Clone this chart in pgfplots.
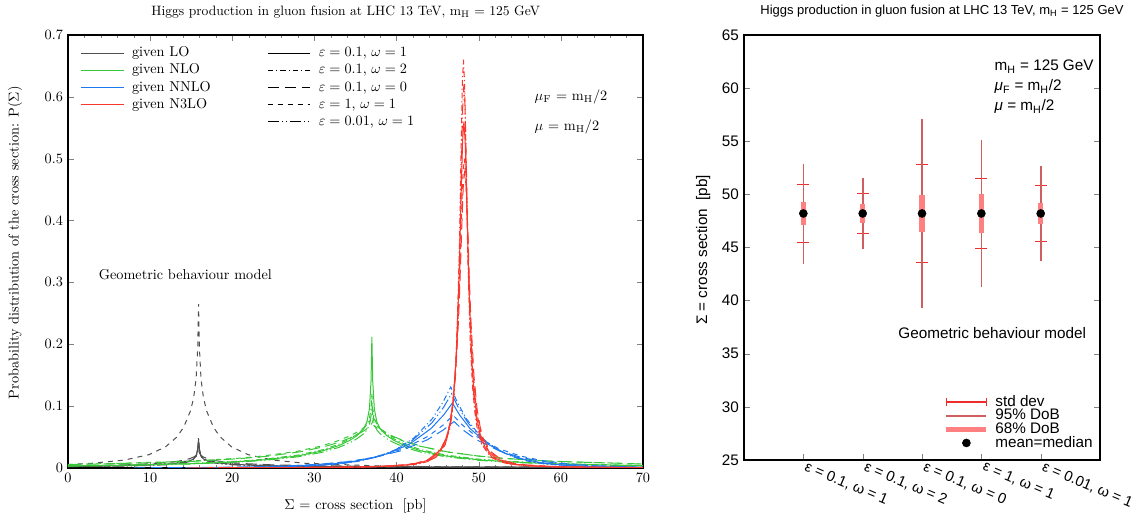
\documentclass[border=0pt]{standalone}
\usepackage{fontspec}
\usepackage{pgfplots}
\usepackage{pgfplotstable}
\pgfplotsset{compat=1.18}
\newfontfamily\hv{Liberation Sans}
\newcommand\hvf{\hv\fontsize{10.7}{13}\selectfont}
\newcommand\hvt{\hv\fontsize{10.3}{12}\selectfont}
\newcommand\hvs{\hv\fontsize{9.1}{11}\selectfont}
\definecolor{cLO}{RGB}{80,80,80}
\definecolor{cNLO}{RGB}{55,200,55}
\definecolor{cNNLO}{RGB}{30,120,240}
\definecolor{cN3LO}{RGB}{250,55,45}
\definecolor{cSD}{RGB}{238,45,45}
\definecolor{cNF}{RGB}{205,95,95}
\definecolor{cSE}{RGB}{255,128,128}
\tikzset{
  lsA/.style={solid},
  lsB/.style={dash pattern=on 4pt off 2pt on 0.8pt off 2pt},
  lsC/.style={dash pattern=on 8pt off 4pt},
  lsD/.style={dash pattern=on 3.5pt off 3.5pt},
  lsE/.style={dash pattern=on 8pt off 2pt on 0.8pt off 2pt on 0.8pt off 2pt},
}
\pgfplotstableread{
x y
1 45.5
1 50.9
1 nan
2 46.3
2 50.1
2 nan
3 43.6
3 52.8
3 nan
4 44.9
4 51.5
4 nan
5 45.6
5 50.8
}\tblSD
\pgfplotstableread{
x y
1 43.4
1 52.9
1 nan
2 44.9
2 51.5
2 nan
3 39.3
3 57.1
3 nan
4 41.3
4 55.1
4 nan
5 43.7
5 52.7
}\tblNF
\pgfplotstableread{
x y
1 47.1
1 49.3
1 nan
2 47.3
2 49.1
2 nan
3 46.5
3 49.9
3 nan
4 46.4
4 50.0
4 nan
5 47.2
5 49.2
}\tblSE
\pgfplotstableread{
x y
1 48.2
2 48.2
3 48.2
4 48.2
5 48.2
}\tblMean
\begin{document}
\begin{tikzpicture}
\path[use as bounding box] (-47.6pt,-38.5pt) rectangle (752.4pt,327.8pt);
% ---------------- left panel
\begin{axis}[
  at={(0pt,0pt)}, anchor=south west,
  scale only axis, width=402.8pt, height=303.3pt,
  clip mode=individual,
  xmin=0, xmax=70, ymin=0, ymax=0.7,
  xtick={0,10,20,30,40,50,60,70},
  minor x tick num=4,
  ytick={0,0.1,0.2,0.3,0.4,0.5,0.6,0.7},
  yticklabels={0,0.1,0.2,0.3,0.4,0.5,0.6,0.7},
  tick align=inside,
  major tick length=4pt, minor tick length=2pt,
  axis line style={line width=0.8pt},
  xlabel={$\Sigma$ = cross section~~[pb]},
  ylabel={Probability distribution of the cross section: P($\Sigma$)},
  xlabel style={at={(axis description cs:0.5,-0.087)}, anchor=center},
  ylabel style={at={(axis description cs:-0.092,0.52)}, anchor=center},
  title={Higgs production in gluon fusion at LHC 13 TeV, m$_\mathrm{H}$ = 125 GeV},
  every axis title/.style={at={(axis description cs:0.483,1)}, anchor=center, yshift=16pt, font=\fontsize{9.5}{11}\selectfont},
  legend style={at={(rel axis cs:0.005,0.985)}, anchor=north west, xshift=3.5pt, draw=none, fill=none,
    row sep=0pt, nodes={inner sep=1.5pt, text height=7pt, text depth=2pt},
    /tikz/every odd column/.append style={column sep=4pt},
    /tikz/every even column/.append style={column sep=38pt}},
  legend columns=2,
  legend cell align=left,
  legend image code/.code={\draw[#1] (0pt,0pt) -- (30pt,0pt);},
  every axis plot/.append style={line width=0.7pt},
]
\addlegendimage{cLO} \addlegendentry{given LO}
\addlegendimage{black,lsA} \addlegendentry{$\varepsilon = 0.1$, $\omega = 1$}
\addlegendimage{cNLO} \addlegendentry{given NLO}
\addlegendimage{black,lsB} \addlegendentry{$\varepsilon = 0.1$, $\omega = 2$}
\addlegendimage{cNNLO} \addlegendentry{given NNLO}
\addlegendimage{black,lsC} \addlegendentry{$\varepsilon = 0.1$, $\omega = 0$}
\addlegendimage{cN3LO} \addlegendentry{given N3LO}
\addlegendimage{black,lsD} \addlegendentry{$\varepsilon = 1$, $\omega = 1$}
\addlegendimage{empty legend} \addlegendentry{}
\addlegendimage{black,lsE} \addlegendentry{$\varepsilon = 0.01$, $\omega = 1$}
% LO
\addplot[cLO,lsA,forget plot] coordinates {(0,0.0022) (2.9,0.0026) (6.9,0.0035) (9.9,0.0047) (11.9,0.0061) (13.3,0.0077) (14.1,0.0092) (14.9,0.0118) (15.3,0.0145) (15.6,0.0193) (15.8,0.030) (15.9,0.046) (16.0,0.030) (16.2,0.0193) (16.5,0.0145) (16.9,0.0118) (17.7,0.0092) (18.5,0.0077) (19.9,0.0061) (21.9,0.0047) (24.9,0.0035) (28.9,0.0026) (37.9,0.0017) (45.9,0.0013) (69.9,0.0007)};
\addplot[cLO,lsB,forget plot] coordinates {(0,0.0025) (2.9,0.0030) (6.9,0.0040) (9.9,0.0053) (11.9,0.0069) (13.3,0.0086) (14.1,0.0103) (14.9,0.0129) (15.3,0.0152) (15.6,0.0191) (15.8,0.0267) (15.9,0.038) (16.0,0.0267) (16.2,0.0191) (16.5,0.0152) (16.9,0.0129) (17.7,0.0103) (18.5,0.0086) (19.9,0.0069) (21.9,0.0053) (24.9,0.0040) (28.9,0.0030) (37.9,0.0019) (45.9,0.0015) (69.9,0.0008)};
\addplot[cLO,lsC,forget plot] coordinates {(0,0.0032) (2.9,0.0038) (6.9,0.0050) (9.9,0.0067) (11.9,0.0086) (13.3,0.0107) (14.1,0.0125) (14.9,0.0154) (15.3,0.0176) (15.6,0.0203) (15.8,0.0245) (15.9,0.030) (16.0,0.0245) (16.2,0.0203) (16.5,0.0176) (16.9,0.0154) (17.7,0.0125) (18.5,0.0107) (19.9,0.0086) (21.9,0.0067) (24.9,0.0050) (28.9,0.0038) (37.9,0.0024) (45.9,0.0018) (69.9,0.0011)};
\addplot[cLO,lsD,forget plot] coordinates {(0,0.0055) (2.9,0.0075) (6.9,0.0128) (9.9,0.0216) (11.9,0.0343) (13.3,0.0505) (14.1,0.0662) (14.9,0.0916) (15.3,0.113) (15.6,0.144) (15.8,0.195) (15.9,0.265) (16.0,0.195) (16.2,0.144) (16.5,0.113) (16.9,0.0916) (17.7,0.0662) (18.5,0.0505) (19.9,0.0343) (21.9,0.0216) (24.9,0.0128) (28.9,0.0075) (37.9,0.0032) (45.9,0.0019) (69.9,0.0006)};
\addplot[cLO,lsE,forget plot] coordinates {(0,0.0019) (2.9,0.0023) (6.9,0.0030) (9.9,0.0040) (11.9,0.0051) (13.3,0.0067) (14.1,0.0081) (14.9,0.0105) (15.3,0.0133) (15.6,0.0188) (15.8,0.031) (15.9,0.050) (16.0,0.031) (16.2,0.0188) (16.5,0.0133) (16.9,0.0105) (17.7,0.0081) (18.5,0.0067) (19.9,0.0051) (21.9,0.0040) (24.9,0.0030) (28.9,0.0023) (37.9,0.0014) (45.9,0.0011) (69.9,0.0006)};
% NLO
\addplot[cNLO,lsA,forget plot] coordinates {(0,0.0032) (7,0.0044) (15,0.0068) (21,0.0104) (24,0.0132) (28,0.0194) (31,0.0276) (33,0.0362) (34.4,0.0452) (35.2,0.0524) (36,0.0635) (36.4,0.0746) (36.7,0.0954) (36.9,0.141) (37,0.212) (37.1,0.141) (37.3,0.0954) (37.6,0.0746) (38,0.0635) (38.8,0.0524) (39.6,0.0452) (41,0.0362) (43,0.0276) (46,0.0194) (50,0.0132) (53,0.0104) (59,0.0068) (67,0.0044) (70,0.0038)};
\addplot[cNLO,lsB,forget plot] coordinates {(0,0.0034) (7,0.0047) (15,0.0073) (21,0.0111) (24,0.0142) (28,0.0208) (31,0.0293) (33,0.0385) (34.4,0.0476) (35.2,0.0546) (36,0.0638) (36.4,0.0707) (36.7,0.080) (36.9,0.0965) (37,0.12) (37.1,0.0965) (37.3,0.080) (37.6,0.0707) (38,0.0638) (38.8,0.0546) (39.6,0.0476) (41,0.0385) (43,0.0293) (46,0.0208) (50,0.0142) (53,0.0111) (59,0.0073) (67,0.0047) (70,0.0041)};
\addplot[cNLO,lsC,forget plot] coordinates {(0.2,0.0054) (7.2,0.0075) (15.2,0.0106) (21.2,0.0153) (24.2,0.0188) (28.2,0.0259) (31.2,0.0343) (33.2,0.0424) (34.6,0.0498) (35.4,0.0551) (36.2,0.0615) (36.6,0.0654) (36.9,0.0696) (37.1,0.0751) (37.2,0.082) (37.3,0.0751) (37.5,0.0696) (37.8,0.0654) (38.2,0.0615) (39.0,0.0551) (39.8,0.0498) (41.2,0.0424) (43.2,0.0343) (46.2,0.0259) (50.2,0.0188) (53.2,0.0153) (59.2,0.0106) (67.2,0.0075) (70.2,0.0062)};
\addplot[cNLO,lsD,forget plot] coordinates {(-0.2,0.0055) (6.8,0.0077) (14.8,0.0109) (20.8,0.0157) (23.8,0.0194) (27.8,0.0266) (30.8,0.0353) (32.8,0.0436) (34.2,0.0511) (35.0,0.0565) (35.8,0.0629) (36.2,0.0667) (36.5,0.0702) (36.7,0.0741) (36.8,0.078) (36.9,0.0741) (37.1,0.0702) (37.4,0.0667) (37.8,0.0629) (38.6,0.0565) (39.4,0.0511) (40.8,0.0436) (42.8,0.0353) (45.8,0.0266) (49.8,0.0194) (52.8,0.0157) (58.8,0.0109) (66.8,0.0077) (69.8,0.0064)};
\addplot[cNLO,lsE,forget plot] coordinates {(0,0.0029) (7,0.0041) (15,0.0064) (21,0.0096) (24,0.0123) (28,0.018) (31,0.0254) (33,0.0333) (34.4,0.0413) (35.2,0.0473) (36,0.0553) (36.4,0.0614) (36.7,0.0696) (36.9,0.0841) (37,0.105) (37.1,0.0841) (37.3,0.0696) (37.6,0.0614) (38,0.0553) (38.8,0.0473) (39.6,0.0413) (41,0.0333) (43,0.0254) (46,0.018) (50,0.0123) (53,0.0096) (59,0.0064) (67,0.0041) (70,0.0035)};
% NNLO
\addplot[cNNLO,lsA,forget plot] coordinates {(15.6,0.00026) (20.8,0.0007) (26.0,0.0019) (31.2,0.0052) (33.8,0.0086) (36.4,0.0142) (39.0,0.0234) (41.6,0.0386) (44.2,0.0637) (45.76,0.086) (46.8,0.105) (47.66,0.086) (48.95,0.0637) (51.1,0.0386) (53.25,0.0234) (55.4,0.0142) (57.55,0.0086) (59.7,0.0052) (64.0,0.0019) (68.3,0.0007) (72.6,0.00026)};
\addplot[cNNLO,lsB,forget plot] coordinates {(19.6,0.0003) (24.1,0.0009) (28.6,0.0024) (33.1,0.0065) (35.35,0.0107) (37.6,0.0177) (39.85,0.0292) (42.1,0.0482) (44.35,0.0795) (45.7,0.1073) (46.6,0.131) (47.36,0.1073) (48.5,0.0795) (50.4,0.0482) (52.3,0.0292) (54.2,0.0177) (56.1,0.0107) (58.0,0.0065) (61.8,0.0024) (65.6,0.0009) (69.4,0.0003)};
\addplot[cNNLO,lsC,forget plot] coordinates {(8,0.0002) (14.5,0.0005) (21,0.0014) (27.5,0.0037) (30.75,0.0062) (34,0.0101) (37.25,0.0167) (40.5,0.0276) (43.75,0.0455) (45.7,0.0614) (47,0.075) (48.1,0.0614) (49.75,0.0455) (52.5,0.0276) (55.25,0.0167) (58,0.0101) (60.75,0.0062) (63.5,0.0037) (69,0.0014) (74.5,0.0005)};
\addplot[cNNLO,lsD,forget plot] coordinates {(10.9,0.0002) (16.9,0.0006) (22.9,0.0016) (28.9,0.0042) (31.9,0.007) (34.9,0.0115) (37.9,0.019) (40.9,0.0313) (43.9,0.0516) (45.7,0.0696) (46.9,0.085) (48.0,0.0696) (49.65,0.0516) (52.4,0.0313) (55.15,0.019) (57.9,0.0115) (60.65,0.007) (63.4,0.0042) (68.9,0.0016) (74.4,0.0006)};
\addplot[cNNLO,lsE,forget plot] coordinates {(17.9,0.0003) (22.7,0.0008) (27.5,0.0022) (32.3,0.006) (34.7,0.0098) (37.1,0.0162) (39.5,0.0268) (41.9,0.0442) (44.3,0.0728) (45.74,0.0983) (46.7,0.12) (47.5,0.0983) (48.7,0.0728) (50.7,0.0442) (52.7,0.0268) (54.7,0.0162) (56.7,0.0098) (58.7,0.006) (62.7,0.0022) (66.7,0.0008) (70.7,0.0003)};
% N3LO
\addplot[cN3LO,lsA,forget plot] coordinates {(18.95,0.0003) (28.7,0.0006) (35.2,0.0014) (39.1,0.0029) (41.7,0.0055) (43.0,0.0086) (44.3,0.0151) (45.6,0.0329) (46.25,0.056) (46.58,0.0773) (46.9,0.112) (47.23,0.172) (47.55,0.28) (47.71,0.358) (47.88,0.448) (48.04,0.527) (48.2,0.56) (48.36,0.527) (48.53,0.448) (48.69,0.358) (48.85,0.28) (49.18,0.172) (49.5,0.112) (49.83,0.0773) (50.15,0.056) (50.8,0.0329) (52.1,0.0151) (53.4,0.0086) (54.7,0.0055) (57.3,0.0029) (61.2,0.0014) (67.7,0.0006) (77.45,0.0003)};
\addplot[cN3LO,lsB,forget plot] coordinates {(23.4,0.0003) (31.65,0.0007) (37.15,0.0017) (40.45,0.0034) (42.65,0.0065) (43.75,0.0102) (44.85,0.0178) (45.95,0.0388) (46.5,0.066) (46.78,0.0911) (47.05,0.132) (47.33,0.203) (47.6,0.33) (47.74,0.422) (47.88,0.528) (48.01,0.621) (48.15,0.66) (48.29,0.621) (48.43,0.528) (48.56,0.422) (48.7,0.33) (48.98,0.203) (49.25,0.132) (49.53,0.0911) (49.8,0.066) (50.35,0.0388) (51.45,0.0178) (52.55,0.0102) (53.65,0.0065) (55.85,0.0034) (59.15,0.0017) (64.65,0.0007) (72.9,0.0003)};
\addplot[cN3LO,lsC,forget plot] coordinates {(14.55,0.0002) (25.8,0.0005) (33.3,0.0012) (37.8,0.0024) (40.8,0.0048) (42.3,0.0074) (43.8,0.013) (45.3,0.0282) (46.05,0.048) (46.43,0.0662) (46.8,0.096) (47.18,0.148) (47.55,0.24) (47.74,0.307) (47.93,0.384) (48.11,0.452) (48.3,0.48) (48.49,0.452) (48.68,0.384) (48.86,0.307) (49.05,0.24) (49.43,0.148) (49.8,0.096) (50.18,0.0662) (50.55,0.048) (51.3,0.0282) (52.8,0.013) (54.3,0.0074) (55.8,0.0048) (58.8,0.0024) (63.3,0.0012) (70.8,0.0005) (82.05,0.0002)};
\addplot[cN3LO,lsD,forget plot] coordinates {(15.85,0.00025) (26.65,0.00055) (33.85,0.0013) (38.17,0.0026) (41.05,0.005) (42.49,0.0077) (43.93,0.0135) (45.37,0.0294) (46.09,0.05) (46.45,0.069) (46.81,0.1) (47.17,0.154) (47.53,0.25) (47.71,0.32) (47.89,0.4) (48.07,0.47) (48.25,0.5) (48.43,0.47) (48.61,0.4) (48.79,0.32) (48.97,0.25) (49.33,0.154) (49.69,0.1) (50.05,0.069) (50.41,0.05) (51.13,0.0294) (52.57,0.0135) (54.01,0.0077) (55.45,0.005) (58.33,0.0026) (62.65,0.0013) (69.85,0.00055) (80.65,0.00025)};
\addplot[cN3LO,lsE,forget plot] coordinates {(22.1,0.0003) (30.8,0.0007) (36.6,0.0016) (40.08,0.0032) (42.4,0.0061) (43.56,0.0095) (44.72,0.0167) (45.88,0.0365) (46.46,0.062) (46.75,0.0856) (47.04,0.124) (47.33,0.191) (47.62,0.31) (47.77,0.397) (47.91,0.496) (48.06,0.583) (48.2,0.62) (48.35,0.583) (48.49,0.496) (48.64,0.397) (48.78,0.31) (49.07,0.191) (49.36,0.124) (49.65,0.0856) (49.94,0.062) (50.52,0.0365) (51.68,0.0167) (52.84,0.0095) (54.0,0.0061) (56.32,0.0032) (59.8,0.0016) (65.6,0.0007) (74.3,0.0003)};
\node[anchor=west] at (rel axis cs:0.803,0.857) {$\mu_\mathrm{F}$ = m$_\mathrm{H}$/2};
\node[anchor=west] at (rel axis cs:0.803,0.7875) {$\mu$ = m$_\mathrm{H}$/2};
\node[anchor=west] at (rel axis cs:0.045,0.446) {Geometric behaviour model};
\end{axis}
% ---------------- right panel
\begin{axis}[
  at={(473.6pt,5.6pt)}, anchor=south west,
  scale only axis, width=249.4pt, height=297.7pt,
  clip mode=individual,
  xmin=0, xmax=6, ymin=25, ymax=65,
  xtick={1,2,3,4,5},
  xticklabels={{ε = 0.1, ω = 1},{ε = 0.1, ω = 2},{ε = 0.1, ω = 0},{ε = 1, ω = 1},{ε = 0.01, ω = 1}},
  xtick pos=left,
  ytick={25,30,35,40,45,50,55,60,65},
  tick align=inside,
  major tick length=4pt,
  axis line style={line width=0.8pt},
  /pgf/number format/assume math mode=true,
  tick label style={font=\hvf},
  xticklabel style={rotate=-23, anchor=north west, xshift=2pt, yshift=2pt, font=\hvt, inner sep=1pt},
  ylabel={Σ = cross section~~[pb]},
  ylabel style={at={(axis description cs:-0.115,0.494)}, anchor=center, font=\hvf},
  title={Higgs production in gluon fusion at LHC 13 TeV, m\textsubscript{H} = 125 GeV},
  every axis title/.style={at={(axis description cs:0.556,1)}, anchor=center, yshift=16.8pt, font=\hvs},
  legend style={at={(rel axis cs:0.998,0.012)}, anchor=south east, draw=none, fill=none,
    font=\hvf, row sep=-2.5pt, nodes={inner sep=1.5pt},
    /tikz/every odd column/.append style={column sep=3pt}},
  legend cell align=left,
  legend image code/.code={\draw[#1] (0pt,0pt) -- (28pt,0pt);},
  unbounded coords=jump,
]
\addplot[cSD, line width=0.8pt, mark=-, mark size=4.2pt, mark options={solid, line width=0.8pt},
  legend image code/.code={\draw[cSD,line width=0.8pt] (0pt,0pt) -- (28pt,0pt); \draw[cSD,line width=0.8pt] (0pt,-2.5pt) -- (0pt,2.5pt); \draw[cSD,line width=0.8pt] (28pt,-2.5pt) -- (28pt,2.5pt);}]
  table {\tblSD};
\addlegendentry{std dev}
\addplot[cNF, line width=1.2pt] table {\tblNF};
\addlegendentry{95\% DoB}
\addplot[cSE, line width=3.6pt] table {\tblSE};
\addlegendentry{68\% DoB}
\addplot[only marks, mark=*, mark size=2.8pt, black,
  legend image code/.code={\fill[black] (14pt,0pt) circle (2.8pt);}] table {\tblMean};
\addlegendentry{mean=median}
\node[anchor=west, font=\hvf] at (rel axis cs:0.69,0.925) {m\textsubscript{H} = 125 GeV};
\node[anchor=west, font=\hvf] at (rel axis cs:0.69,0.878) {{\itshape μ}\textsubscript{F} = m\textsubscript{H}/2};
\node[anchor=west, font=\hvf] at (rel axis cs:0.69,0.831) {{\itshape μ} = m\textsubscript{H}/2};
\node[anchor=east, font=\hvf] at (rel axis cs:0.975,0.299) {Geometric behaviour model};
\end{axis}
\end{tikzpicture}
\end{document}
